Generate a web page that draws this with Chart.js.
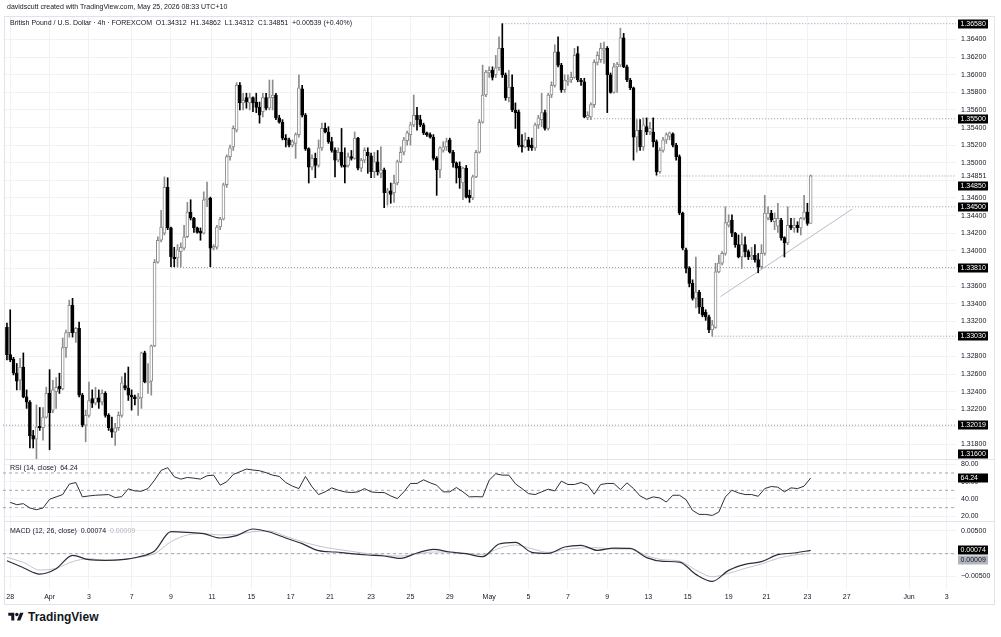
<!DOCTYPE html>
<html lang="en">
<head>
<meta charset="UTF-8">
<meta name="viewport" content="width=device-width, initial-scale=1.0">
<title>British Pound / U.S. Dollar · 4h</title>
<script src="https://cdn.jsdelivr.net/npm/chart.js"></script>
<style>
  html, body { margin: 0; padding: 0; background: #fff; }
  body { position: relative; width: 1001px; height: 637px; overflow: hidden;
         font-family: "Liberation Sans", Arial, sans-serif; color: #131722; }
  canvas { position: absolute; left: 0; }
  .txt { position: absolute; font-size: 7px; line-height: 8px; white-space: pre; }
  .frame { position: absolute; left: 4px; top: 16px; width: 991px; height: 589px;
           border: 1px solid #e0e3eb; box-sizing: border-box; }
  .sep { position: absolute; left: 4px; width: 991px; height: 1px; background: #e0e3eb; }
  .logo { position: absolute; left: 8px; top: 610px; display: flex; align-items: center; gap: 4px;
          font-size: 12px; font-weight: bold; color: #131722; }
</style>
</head>
<body>
<div class="frame"></div>
<canvas id="price" width="1001" height="460" style="top:0"></canvas>
<canvas id="rsi" width="1001" height="61" style="top:460px"></canvas>
<canvas id="macd" width="1001" height="84" style="top:521px"></canvas>
<div class="sep" style="top:459px"></div>
<div class="sep" style="top:521px"></div>
<div class="txt" style="left:7px;top:3px">davidscutt created with TradingView.com, May 25, 2026 08:33 UTC+10</div>
<div class="txt" style="left:10px;top:19px">British Pound / U.S. Dollar · 4h · FOREXCOM  O1.34312  H1.34862  L1.34312  C1.34851  +0.00539 (+0.40%)</div>
<div class="txt" style="left:10px;top:464px">RSI (14, close)  64.24</div>
<div class="txt" style="left:10px;top:527px">MACD (12, 26, close)  0.00074  <span style="color:#b2b5be">0.00009</span></div>
<div class="logo">
  <svg width="16" height="12" viewBox="0 0 36 28"><path d="M14 22H7V11H0V4h14v18z" fill="#131722"/><circle cx="20" cy="8" r="4" fill="#131722"/><path d="M28 22h-8l7.5-18h8L28 22z" fill="#131722"/></svg>
  <span>TradingView</span>
</div>

<script>
// 4h candles, oldest first
const open = [
  1.3313,1.3282,1.3277,1.3261,1.3253,1.3268,1.3234,1.3228,1.3190,1.3186,
  1.3201,1.3199,1.3211,1.3238,1.3219,1.3240,1.3246,1.3243,1.3290,1.3307,
  1.3338,1.3307,1.3312,1.3236,1.3202,1.3213,1.3232,1.3227,1.3233,1.3228,
  1.3238,1.3213,1.3198,1.3194,1.3199,1.3213,1.3247,1.3244,1.3236,1.3234,
  1.3232,1.3233,1.3284,1.3250,1.3252,1.3292,1.3387,1.3412,1.3420,1.3472,
  1.3426,1.3393,1.3392,1.3399,1.3403,1.3416,1.3444,1.3437,1.3426,1.3422,
  1.3420,1.3458,1.3460,1.3403,1.3404,1.3427,1.3436,1.3475,1.3507,1.3518,
  1.3537,1.3588,1.3568,1.3574,1.3568,1.3574,1.3569,1.3563,1.3558,1.3574,
  1.3562,1.3574,1.3577,1.3551,1.3546,1.3528,1.3526,1.3520,1.3522,1.3532,
  1.3584,1.3554,1.3516,1.3495,1.3505,1.3497,1.3517,1.3539,1.3535,1.3524,
  1.3514,1.3503,1.3512,1.3497,1.3497,1.3507,1.3505,1.3528,1.3494,1.3503,
  1.3512,1.3508,1.3490,1.3501,1.3488,1.3492,1.3466,1.3468,1.3466,1.3477,
  1.3501,1.3512,1.3525,1.3532,1.3543,1.3554,1.3549,1.3543,1.3534,1.3532,
  1.3529,1.3505,1.3492,1.3514,1.3518,1.3526,1.3512,1.3500,1.3496,1.3477,
  1.3494,1.3463,1.3460,1.3484,1.3512,1.3546,1.3577,1.3602,1.3605,1.3600,
  1.3608,1.3630,1.3600,1.3574,1.3586,1.3560,1.3558,1.3520,1.3518,1.3526,
  1.3520,1.3517,1.3543,1.3549,1.3557,1.3539,1.3577,1.3588,1.3626,1.3611,
  1.3583,1.3592,1.3594,1.3597,1.3624,1.3594,1.3592,1.3551,1.3552,1.3566,
  1.3614,1.3617,1.3628,1.3630,1.3600,1.3580,1.3609,1.3611,1.3642,1.3609,
  1.3594,1.3585,1.3529,1.3537,1.3518,1.3541,1.3535,1.3535,1.3524,1.3490,
  1.3514,1.3526,1.3530,1.3533,1.3520,1.3507,1.3443,1.3401,1.3380,1.3363,
  1.3346,1.3353,1.3336,1.3330,1.3325,1.3310,1.3313,1.3376,1.3386,1.3397,
  1.3429,1.3435,1.3420,1.3407,1.3393,1.3407,1.3399,1.3393,1.3395,1.3390,
  1.3382,1.3397,1.3437,1.3443,1.3433,1.3428,1.3435,1.3415,1.3409,1.3429,
  1.3426,1.3429,1.3426,1.3437,1.3444,1.34312
];
const high = [
  1.3318,1.3333,1.3279,1.3272,1.3278,1.3284,1.3242,1.3230,1.3196,1.3225,
  1.3222,1.3222,1.3245,1.3265,1.3253,1.3256,1.3261,1.3301,1.3310,1.3344,
  1.3346,1.3313,1.3319,1.3238,1.3219,1.3251,1.3242,1.3245,1.3242,1.3242,
  1.3240,1.3215,1.3211,1.3204,1.3217,1.3257,1.3261,1.3268,1.3242,1.3236,
  1.3238,1.3285,1.3286,1.3272,1.3293,1.3390,1.3416,1.3446,1.3484,1.3483,
  1.3427,1.3404,1.3407,1.3409,1.3429,1.3455,1.3458,1.3438,1.3427,1.3426,
  1.3467,1.3478,1.3461,1.3407,1.3429,1.3438,1.3477,1.3509,1.3520,1.3542,
  1.3591,1.3591,1.3579,1.3579,1.3579,1.3575,1.3579,1.3569,1.3579,1.3579,
  1.3594,1.3594,1.3579,1.3554,1.3549,1.3532,1.3528,1.3526,1.3534,1.3600,
  1.3588,1.3556,1.3517,1.3509,1.3511,1.3526,1.3545,1.3545,1.3541,1.3529,
  1.3517,1.3517,1.3539,1.3517,1.3511,1.3514,1.3535,1.3529,1.3505,1.3517,
  1.3517,1.3511,1.3512,1.3514,1.3518,1.3494,1.3471,1.3477,1.3486,1.3503,
  1.3518,1.3529,1.3536,1.3546,1.3577,1.3563,1.3554,1.3545,1.3535,1.3534,
  1.3532,1.3507,1.3518,1.3524,1.3528,1.3528,1.3514,1.3501,1.3501,1.3495,
  1.3497,1.3469,1.3486,1.3514,1.3549,1.3611,1.3605,1.3609,1.3609,1.3622,
  1.3643,1.3658,1.3602,1.3605,1.3600,1.3568,1.3560,1.3532,1.3534,1.3529,
  1.3528,1.3545,1.3554,1.3579,1.3560,1.3579,1.3592,1.3634,1.3643,1.3613,
  1.3600,1.3600,1.3603,1.3630,1.3632,1.3596,1.3596,1.3558,1.3568,1.3617,
  1.3626,1.3636,1.3637,1.3632,1.3602,1.3613,1.3614,1.3653,1.3647,1.3611,
  1.3596,1.3586,1.3549,1.3549,1.3551,1.3551,1.3546,1.3551,1.3526,1.3517,
  1.3529,1.3534,1.3535,1.3534,1.3522,1.3509,1.3444,1.3403,1.3382,1.3367,
  1.3393,1.3355,1.3346,1.3333,1.3327,1.3321,1.3386,1.3395,1.3399,1.3450,
  1.3441,1.3441,1.3421,1.3418,1.3420,1.3416,1.3401,1.3404,1.3407,1.3397,
  1.3407,1.3463,1.3450,1.3446,1.3443,1.3454,1.3437,1.3416,1.3450,1.3437,
  1.3437,1.3433,1.3438,1.3463,1.3454,1.34862
];
const low = [
  1.3276,1.3274,1.3259,1.3242,1.3242,1.3233,1.3221,1.3176,1.3176,1.3162,
  1.3196,1.3185,1.3210,1.3174,1.3216,1.3221,1.3238,1.3242,1.3279,1.3302,
  1.3302,1.3296,1.3234,1.3200,1.3183,1.3211,1.3222,1.3225,1.3221,1.3225,
  1.3211,1.3196,1.3188,1.3179,1.3196,1.3211,1.3242,1.3230,1.3219,1.3225,
  1.3213,1.3221,1.3250,1.3238,1.3236,1.3291,1.3386,1.3410,1.3418,1.3424,
  1.3382,1.3382,1.3382,1.3382,1.3401,1.3415,1.3435,1.3421,1.3420,1.3412,
  1.3419,1.3450,1.3382,1.3401,1.3402,1.3424,1.3435,1.3472,1.3503,1.3514,
  1.3535,1.3560,1.3560,1.3562,1.3560,1.3558,1.3557,1.3545,1.3552,1.3560,
  1.3560,1.3560,1.3549,1.3545,1.3526,1.3518,1.3518,1.3518,1.3505,1.3529,
  1.3552,1.3514,1.3477,1.3492,1.3483,1.3495,1.3514,1.3534,1.3522,1.3512,
  1.3484,1.3501,1.3495,1.3477,1.3495,1.3503,1.3504,1.3492,1.3490,1.3500,
  1.3488,1.3483,1.3483,1.3486,1.3483,1.3449,1.3452,1.3454,1.3455,1.3475,
  1.3500,1.3509,1.3520,1.3520,1.3541,1.3537,1.3541,1.3532,1.3530,1.3528,
  1.3503,1.3463,1.3483,1.3512,1.3514,1.3511,1.3495,1.3477,1.3471,1.3458,
  1.3460,1.3455,1.3458,1.3483,1.3511,1.3545,1.3575,1.3597,1.3594,1.3597,
  1.3605,1.3597,1.3571,1.3569,1.3558,1.3539,1.3518,1.3512,1.3517,1.3514,
  1.3514,1.3514,1.3539,1.3541,1.3537,1.3537,1.3574,1.3586,1.3609,1.3580,
  1.3580,1.3588,1.3591,1.3596,1.3592,1.3588,1.3551,1.3549,1.3549,1.3563,
  1.3611,1.3614,1.3613,1.3557,1.3579,1.3579,1.3580,1.3609,1.3608,1.3592,
  1.3583,1.3503,1.3512,1.3514,1.3514,1.3532,1.3532,1.3518,1.3486,1.3488,
  1.3512,1.3522,1.3526,1.3518,1.3503,1.3441,1.3401,1.3375,1.3359,1.3344,
  1.3335,1.3329,1.3325,1.3321,1.3307,1.3303,1.3312,1.3375,1.3384,1.3395,
  1.3427,1.3416,1.3404,1.3392,1.3380,1.3393,1.3390,1.3390,1.3387,1.3375,
  1.3380,1.3395,1.3435,1.3433,1.3424,1.3421,1.3412,1.3393,1.3407,1.3424,
  1.3421,1.3421,1.3418,1.3435,1.3429,1.34312
];
const close = [
  1.3282,1.3276,1.3261,1.3252,1.3268,1.3234,1.3228,1.3190,1.3186,1.3200,
  1.3199,1.3211,1.3238,1.3216,1.3242,1.3245,1.3243,1.3290,1.3307,1.3338,
  1.3307,1.3312,1.3236,1.3202,1.3213,1.3230,1.3227,1.3233,1.3228,1.3238,
  1.3213,1.3199,1.3194,1.3199,1.3213,1.3250,1.3244,1.3236,1.3234,1.3232,
  1.3234,1.3284,1.3251,1.3252,1.3292,1.3387,1.3412,1.3427,1.3472,1.3426,
  1.3393,1.3391,1.3401,1.3404,1.3416,1.3444,1.3437,1.3426,1.3421,1.3420,
  1.3458,1.3460,1.3403,1.3405,1.3427,1.3436,1.3475,1.3507,1.3517,1.3539,
  1.3588,1.3568,1.3571,1.3569,1.3574,1.3568,1.3563,1.3554,1.3574,1.3562,
  1.3574,1.3577,1.3551,1.3546,1.3528,1.3526,1.3520,1.3524,1.3532,1.3585,
  1.3554,1.3516,1.3495,1.3505,1.3497,1.3517,1.3539,1.3535,1.3524,1.3514,
  1.3503,1.3512,1.3497,1.3495,1.3507,1.3505,1.3528,1.3494,1.3503,1.3514,
  1.3508,1.3490,1.3501,1.3490,1.3492,1.3466,1.3468,1.3464,1.3477,1.3501,
  1.3512,1.3526,1.3534,1.3543,1.3554,1.3549,1.3543,1.3534,1.3532,1.3529,
  1.3505,1.3492,1.3517,1.3518,1.3524,1.3512,1.3500,1.3494,1.3483,1.3494,
  1.3461,1.3460,1.3484,1.3512,1.3546,1.3577,1.3603,1.3605,1.3597,1.3608,
  1.3630,1.3600,1.3574,1.3586,1.3560,1.3557,1.3520,1.3518,1.3526,1.3518,
  1.3517,1.3543,1.3551,1.3557,1.3539,1.3577,1.3588,1.3626,1.3611,1.3583,
  1.3594,1.3594,1.3597,1.3622,1.3594,1.3592,1.3552,1.3554,1.3566,1.3614,
  1.3622,1.3630,1.3630,1.3600,1.3580,1.3609,1.3612,1.3642,1.3609,1.3594,
  1.3585,1.3529,1.3537,1.3518,1.3543,1.3535,1.3539,1.3524,1.3490,1.3514,
  1.3526,1.3532,1.3534,1.3520,1.3507,1.3443,1.3403,1.3380,1.3363,1.3346,
  1.3353,1.3336,1.3327,1.3325,1.3310,1.3316,1.3376,1.3386,1.3397,1.3432,
  1.3433,1.3420,1.3407,1.3393,1.3407,1.3399,1.3393,1.3395,1.3390,1.3382,
  1.3397,1.3443,1.3443,1.3435,1.3437,1.3437,1.3415,1.3409,1.3429,1.3426,
  1.3429,1.3426,1.3437,1.3444,1.3431,1.34851
];

// horizontal rays drawn on the chart and the candle they start from
const levelPrices = [1.3658, 1.3550, 1.3485, 1.3450, 1.3381, 1.3303, 1.32019, 1.3160];
const levelFrom   = [151, 179, 198, 115, 50, 215, -1.2, -1.2];
// rising trend line (candle index, price)
const trendX = [217.5, 257.7];
const trendY = [1.3348, 1.34475];

// RSI(14), read every second candle starting at candle 1
const rsiValues = [
  36.1,33.4,34.6,29.6,27.6,29.6,39.6,42.4,45.1,57.1,
  59.0,42.4,43.5,44.3,44.7,45.1,41.6,42.7,51.7,49.3,
  48.9,52.0,61.7,73.0,76.1,65.6,62.9,64.8,64.0,62.9,
  66.8,67.5,55.9,59.8,68.3,71.4,74.5,73.4,72.6,70.3,
  67.5,66.0,59.0,54.8,52.0,66.0,54.0,45.1,48.2,52.8,
  50.1,48.2,47.4,48.2,52.0,48.2,47.4,47.4,43.5,40.4,
  48.2,57.9,57.9,62.1,58.6,55.9,48.2,48.2,53.2,48.2,
  42.4,42.7,42.4,61.7,69.1,67.5,67.5,57.5,52.0,46.2,
  45.1,48.2,51.3,49.3,60.6,56.7,56.7,59.0,55.9,45.5,
  56.7,57.9,57.9,50.9,58.6,52.0,43.5,39.6,42.4,41.2,
  36.5,44.3,44.3,39.2,26.8,22.2,22.2,21.0,24.9,42.4,
  50.1,47.0,45.1,45.1,43.1,52.0,54.4,53.6,48.2,52.8,
  52.0,54.8,64.24
];
const rsiBands = [70, 50, 30];
const rsiTicks = [20, 40, 60, 80];

// MACD(12, 26) and signal, read every fifth candle from candle 0
const macdLine = [
  -0.00153,-0.00307,-0.00446,-0.00329,-0.00036,-0.00132,-0.00146,-0.00132,-0.00073,0.00059,
  0.00483,0.00468,0.00439,0.00344,0.00395,0.00541,0.00475,0.00344,0.00220,0.00066,
  0.00037,0.00000,-0.00029,-0.00051,-0.00102,0.00015,0.00095,0.00037,0.00000,-0.00066,
  0.00212,0.00249,0.00029,0.00007,0.00146,0.00183,0.00073,0.00124,0.00117,-0.00087,
  -0.00168,-0.00183,-0.00453,-0.00607,-0.00365,-0.00234,-0.00175,-0.00022,0.00015,0.00074
];
const macdSignal = [
  -0.00080,-0.00190,-0.00358,-0.00321,-0.00175,-0.00110,-0.00146,-0.00132,-0.00080,0.00000,
  0.00263,0.00410,0.00439,0.00410,0.00424,0.00483,0.00497,0.00380,0.00263,0.00168,
  0.00103,0.00051,0.00000,-0.00037,-0.00051,-0.00007,0.00037,0.00037,0.00000,-0.00022,
  0.00117,0.00190,0.00110,0.00029,0.00088,0.00124,0.00132,0.00103,0.00103,-0.00044,
  -0.00132,-0.00161,-0.00358,-0.00504,-0.00431,-0.00321,-0.00227,-0.00102,-0.00029,0.00009
];
const macdTicks = [-0.005, 0, 0.005];

// time axis: candle index of each date label
const timeLabels = ['28','Apr','3','7','9','11','15','17','21','23','25','29','May','5','7','9','13','15','19','21','23','27','Jun','3'];
const timeTicks  = [1,13,25,38,50,62.5,74.5,86.5,98.5,111,123,135,147,159,171,183,195.5,207.5,220,231.5,244,256,275,286.5];

const priceTicks = [1.318,1.320,1.322,1.324,1.326,1.328,1.330,1.332,1.334,1.336,1.338,1.340,
                    1.342,1.344,1.346,1.348,1.350,1.352,1.354,1.356,1.358,1.360,1.362,1.364];

Chart.defaults.font.family = '"Liberation Sans", Arial, sans-serif';
Chart.defaults.font.size = 7;
Chart.defaults.color = '#131722';

const GRID = '#f0f1f4';
const X_MIN = -1.2, X_MAX = 289.3;
const AXIS_W = 45;
const UP = '#8c8c8c', DOWN = '#000000';
const lastPrice = close[close.length - 1];

function timeAxis(showLabels) {
    return {
        type: 'linear', min: X_MIN, max: X_MAX, offset: false,
        afterBuildTicks: s => { s.ticks = timeTicks.map(v => ({ value: v })); },
        ticks: { display: showLabels, autoSkip: false, maxRotation: 0, padding: 4,
                 callback: (v, i) => timeLabels[i] },
        grid: { color: GRID, drawTicks: false, offset: false },
        border: { display: false },
        afterFit: s => { s.height = showLabels ? 16 : 0; s.paddingLeft = 0; s.paddingRight = 0; }
    };
}

function valueAxis(min, max, tickValues, format) {
    return {
        position: 'right', min, max,
        afterBuildTicks: s => { s.ticks = tickValues.map(v => ({ value: v })); },
        ticks: { padding: 5, autoSkip: false, callback: format },
        grid: { color: GRID, drawTicks: false },
        border: { display: false },
        afterFit: s => { s.width = AXIS_W; s.paddingTop = 0; s.paddingBottom = 0; }
    };
}

function baseOptions(padding, yScale, showTime) {
    return {
        responsive: false, animation: false, events: [],
        layout: { padding },
        plugins: { legend: { display: false }, tooltip: { enabled: false } },
        scales: { x: timeAxis(showTime), y: yScale }
    };
}

// price tag on the right axis
function drawTag(chart, text, y, bg, fg) {
    const { ctx, chartArea } = chart;
    const yy = Math.round(y);
    ctx.save();
    ctx.fillStyle = bg;
    ctx.fillRect(chartArea.right + 2, yy - 4.5, 30, 9);
    ctx.fillStyle = fg;
    ctx.font = '7px "Liberation Sans", Arial, sans-serif';
    ctx.textBaseline = 'middle';
    ctx.textAlign = 'left';
    ctx.fillText(text, chartArea.right + 4.5, yy + 0.5);
    ctx.restore();
}

const nearTag = v => levelPrices.some(p => Math.abs(p - v) < 0.0006) || Math.abs(lastPrice - v) < 0.0006;

// ---- price pane ----
const isUp = close.map((c, i) => c >= open[i]);
const priceDatasets = [
    { label: 'body', order: 1, grouped: false, barThickness: 3, minBarLength: 1,
      data: close.map((c, i) => ({ x: i, y: [open[i], c] })),
      backgroundColor: isUp.map(u => u ? '#ffffff' : DOWN),
      borderColor: isUp.map(u => u ? UP : DOWN),
      borderWidth: 1, borderSkipped: false },
    { label: 'wick', order: 2, grouped: false, barThickness: 1,
      data: close.map((c, i) => ({ x: i, y: [low[i], high[i]] })),
      backgroundColor: isUp.map(u => u ? UP : DOWN) },
    { type: 'line', order: 3, data: trendX.map((x, i) => ({ x, y: trendY[i] })),
      borderColor: '#b8bcc6', borderWidth: 1, pointRadius: 0 }
];
levelPrices.forEach((v, i) => {
    priceDatasets.push({ type: 'line', order: 4,
        data: [{ x: levelFrom[i], y: v }, { x: X_MAX, y: v }],
        borderColor: '#9598a1', borderWidth: 1, borderDash: [1, 2], pointRadius: 0 });
});

new Chart(document.getElementById('price'), {
    type: 'bar',
    data: { datasets: priceDatasets },
    options: baseOptions({ left: 3, right: 0, top: 17, bottom: 1 },
        valueAxis(1.31635, 1.36656, priceTicks, v => nearTag(v) ? '' : v.toFixed(5)), false),
    plugins: [{
        id: 'priceTags',
        afterDraw(chart) {
            const { chartArea: a, scales: { y } } = chart;
            const lastY = y.getPixelForValue(lastPrice);
            levelPrices.forEach(v => {
                let py = Math.min(Math.max(y.getPixelForValue(v), a.top + 5), a.bottom - 5);
                if (Math.abs(py - lastY) < 9) py = lastY + 10;
                drawTag(chart, v.toFixed(5), py, '#000000', '#ffffff');
            });
            const ctx = chart.ctx;
            ctx.save();
            ctx.fillStyle = '#131722';
            ctx.font = '7px "Liberation Sans", Arial, sans-serif';
            ctx.textBaseline = 'middle';
            ctx.fillText(lastPrice.toFixed(5), a.right + 5, Math.round(lastY) + 0.5);
            ctx.restore();
        }
    }]
});

// ---- RSI pane ----
const rsiDatasets = [
    { data: rsiValues.map((v, k) => ({ x: 2 * k + 1, y: v })),
      borderColor: '#2a2e39', borderWidth: 1, pointRadius: 0 }
];
rsiBands.forEach(b => rsiDatasets.push({
    data: [{ x: X_MIN, y: b }, { x: X_MAX, y: b }],
    borderColor: '#a3a6af', borderWidth: 1, borderDash: [3, 3], pointRadius: 0 }));

new Chart(document.getElementById('rsi'), {
    type: 'line',
    data: { datasets: rsiDatasets },
    options: baseOptions({ left: 3, right: 0, top: 0, bottom: 0 },
        valueAxis(14.58, 84.96, rsiTicks, v => v.toFixed(2)), false),
    plugins: [{
        id: 'rsiTag',
        afterDraw(chart) {
            const v = rsiValues[rsiValues.length - 1];
            drawTag(chart, v.toFixed(2), chart.scales.y.getPixelForValue(v), '#000000', '#ffffff');
        }
    }]
});

// ---- MACD pane ----
new Chart(document.getElementById('macd'), {
    type: 'line',
    data: { datasets: [
        { data: macdLine.map((v, k) => ({ x: 5 * k, y: v })), borderColor: '#2a2e39',
          borderWidth: 1.2, pointRadius: 0, cubicInterpolationMode: 'monotone' },
        { data: macdSignal.map((v, k) => ({ x: 5 * k, y: v })), borderColor: '#c3c5cc',
          borderWidth: 1, pointRadius: 0, cubicInterpolationMode: 'monotone' },
        { data: [{ x: X_MIN, y: 0 }, { x: X_MAX, y: 0 }], borderColor: '#a3a6af',
          borderWidth: 1, borderDash: [3, 3], pointRadius: 0 }
    ] },
    options: baseOptions({ left: 3, right: 0, top: 1, bottom: 0 },
        valueAxis(-0.00774, 0.00695, macdTicks,
            v => v === 0 ? '' : (v < 0 ? '\u2212' : '') + Math.abs(v).toFixed(5)), true),
    plugins: [{
        id: 'macdTags',
        afterDraw(chart) {
            const y = chart.scales.y;
            const m = macdLine[macdLine.length - 1], s = macdSignal[macdSignal.length - 1];
            const my = y.getPixelForValue(m);
            let sy = y.getPixelForValue(s);
            if (Math.abs(sy - my) < 10) sy = my + 10;
            drawTag(chart, m.toFixed(5), my, '#000000', '#ffffff');
            drawTag(chart, s.toFixed(5), sy, '#b2b5be', '#131722');
        }
    }]
});
</script>
</body>
</html>
